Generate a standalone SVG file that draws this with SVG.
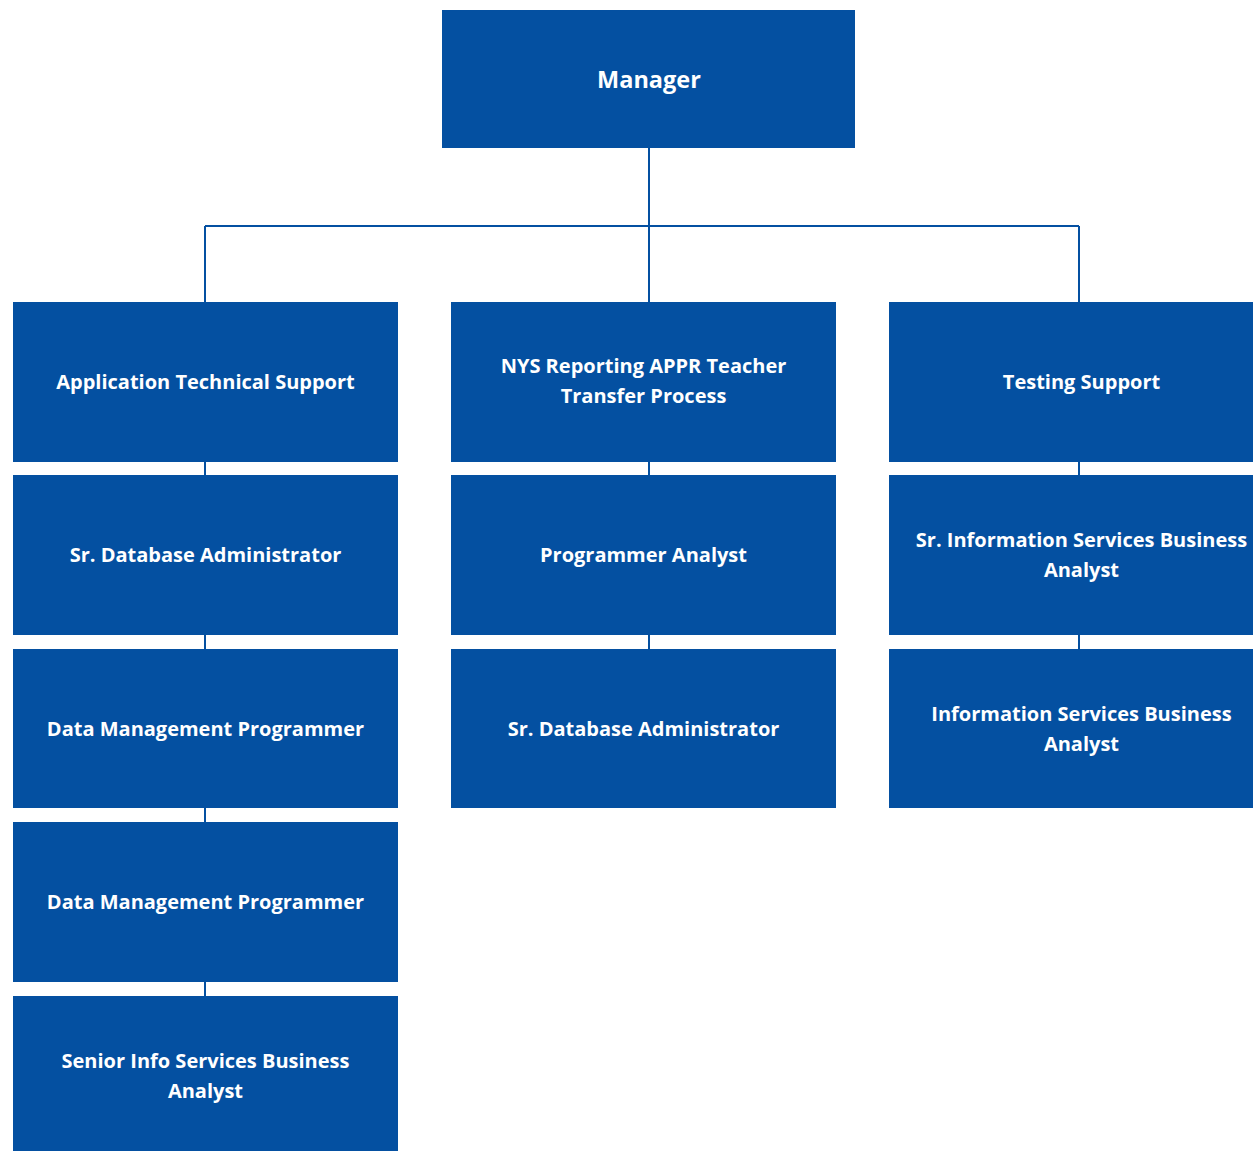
<svg xmlns="http://www.w3.org/2000/svg" width="1253" height="1151" viewBox="0 0 1253 1151">
<style>
.box{fill:#0450A1}
.t{font-family:"Open Sans","Liberation Sans",sans-serif;font-weight:700;font-size:20px;fill:#ffffff;text-anchor:middle}
.big{font-size:23.5px}
.c{stroke:#0450A1;stroke-width:2;fill:none}
</style>
<rect width="1253" height="1151" fill="#ffffff"/>
<g id="connectors">
<path class="c" d="M649 148V302M205 226H1079M205 226V302M1079 226V302"/>
<path class="c" d="M205 462V475M205 635V649M205 808V822M205 982V996"/>
<path class="c" d="M649 462V475M649 635V649"/>
<path class="c" d="M1079 462V475M1079 635V649"/>
</g>
<g id="manager"><rect class="box" x="442" y="10" width="413" height="138"/><text class="t big" x="649" y="88">Manager</text></g>
<g id="app-tech-support"><rect class="box" x="13" y="302" width="385" height="160"/><text class="t" x="205.5" y="389">Application Technical Support</text></g>
<g id="nys-reporting"><rect class="box" x="451" y="302" width="385" height="160"/><text class="t" x="643.5" y="373">NYS Reporting APPR Teacher</text><text class="t" x="643.5" y="403">Transfer Process</text></g>
<g id="testing-support"><rect class="box" x="889" y="302" width="385" height="160"/><text class="t" x="1081.5" y="389">Testing Support</text></g>
<g id="sr-dba-1"><rect class="box" x="13" y="475" width="385" height="160"/><text class="t" x="205.5" y="562">Sr. Database Administrator</text></g>
<g id="programmer-analyst"><rect class="box" x="451" y="475" width="385" height="160"/><text class="t" x="643.5" y="562">Programmer Analyst</text></g>
<g id="sr-isba"><rect class="box" x="889" y="475" width="385" height="160"/><text class="t" x="1081.5" y="547">Sr. Information Services Business</text><text class="t" x="1081.5" y="577">Analyst</text></g>
<g id="dmp-1"><rect class="box" x="13" y="649" width="385" height="159"/><text class="t" x="205.5" y="735.5">Data Management Programmer</text></g>
<g id="sr-dba-2"><rect class="box" x="451" y="649" width="385" height="159"/><text class="t" x="643.5" y="735.5">Sr. Database Administrator</text></g>
<g id="isba"><rect class="box" x="889" y="649" width="385" height="159"/><text class="t" x="1081.5" y="720.5">Information Services Business</text><text class="t" x="1081.5" y="750.5">Analyst</text></g>
<g id="dmp-2"><rect class="box" x="13" y="822" width="385" height="160"/><text class="t" x="205.5" y="909">Data Management Programmer</text></g>
<g id="senior-isba"><rect class="box" x="13" y="996" width="385" height="160"/><text class="t" x="205.5" y="1067.5">Senior Info Services Business</text><text class="t" x="205.5" y="1097.5">Analyst</text></g>
</svg>
